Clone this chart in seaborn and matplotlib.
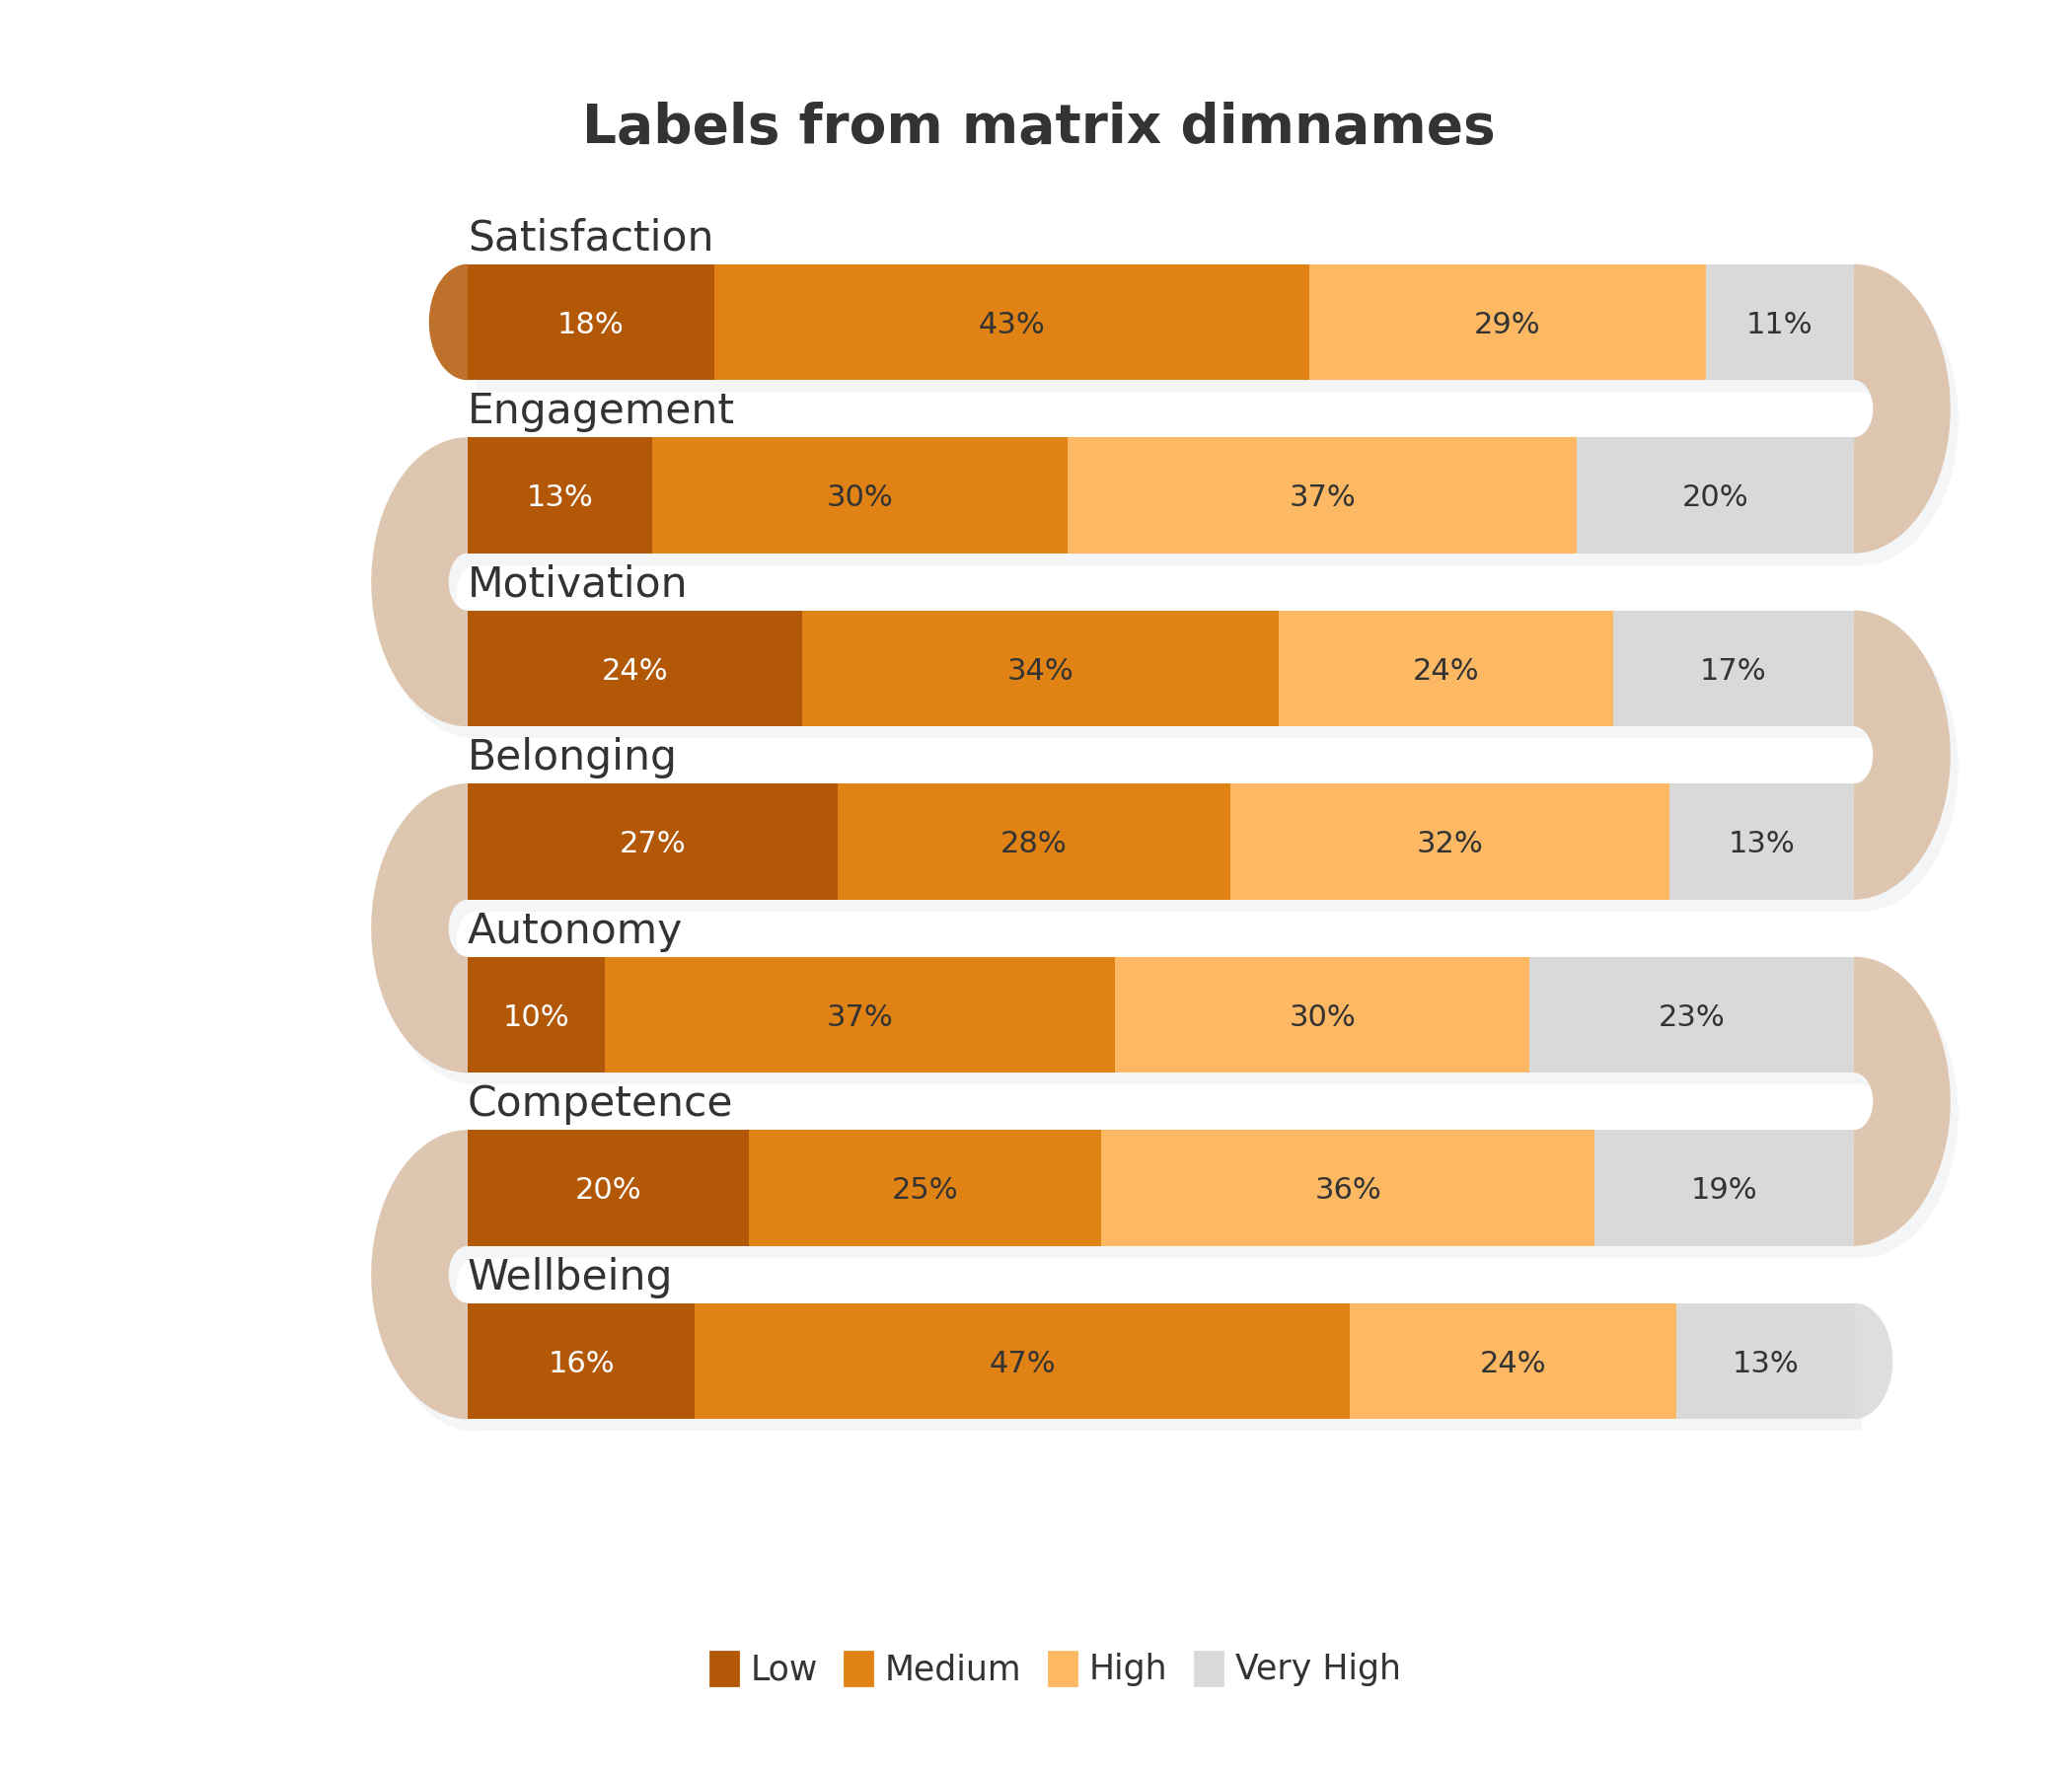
import numpy as np
import pandas as pd
import seaborn as sns
import matplotlib
matplotlib.use("Agg")
import matplotlib.pyplot as plt
from matplotlib.patches import Polygon, Rectangle, Patch

# survey rows and response levels (percent of respondents)
rows = ["Satisfaction", "Engagement", "Motivation", "Belonging",
        "Autonomy", "Competence", "Wellbeing"]
levels = ["Low", "Medium", "High", "Very High"]
low = [17.8, 13.3, 24.1, 26.7, 9.9, 20.3, 16.4]
medium = [42.9, 30.0, 34.4, 28.3, 36.8, 25.4, 47.2]
high = [28.6, 36.7, 24.1, 31.7, 29.9, 35.6, 23.6]
very_high = [10.7, 20.0, 17.4, 13.3, 23.4, 18.7, 12.8]

colors = ["#b35806", "#e08214", "#fdb863", "#d9d9d9"]
text_dark = "#333333"
connector_color = "#d9bda4"
shadow_color = "#f4f5f7"

BAR_H = 0.67       # bar thickness in row units
ASPECT = 0.667     # how round the caps look (x/y in pixels)
PX_X = 14.05       # pixels per percent
PX_Y = 175.5       # pixels per row


def half_ring(xc, yc, r_out, r_in, side):
    # half annulus, squashed so it looks like the reference caps
    t = np.linspace(-np.pi / 2, np.pi / 2, 120)
    k = PX_Y * ASPECT / PX_X
    outer_x = xc + side * r_out * k * np.cos(t)
    outer_y = yc + r_out * np.sin(t)
    inner_x = xc + side * r_in * k * np.cos(t[::-1])
    inner_y = yc + r_in * np.sin(t[::-1])
    return np.column_stack([np.r_[outer_x, inner_x], np.r_[outer_y, inner_y]])


def half_disc(xc, yc, r, side):
    t = np.linspace(-np.pi / 2, np.pi / 2, 120)
    k = PX_Y * ASPECT / PX_X
    return np.column_stack([xc + side * r * k * np.cos(t), yc + r * np.sin(t)])


def main():
    sns.set_theme(style="white")
    plt.rcParams["font.family"] = ["DejaVu Sans"]

    data = pd.DataFrame({"row": rows, "Low": low, "Medium": medium,
                         "High": high, "Very High": very_high})
    cum = data[levels].cumsum(axis=1)

    fig = plt.figure(figsize=(10.5, 9), dpi=200)
    ax = fig.add_axes([0, 0, 1, 1])

    # stacked bars: draw the cumulative totals from the longest down
    for k in reversed(range(len(levels))):
        sns.barplot(x=cum[levels[k]], y=data["row"], color=colors[k],
                    width=BAR_H, orient="h", saturation=1, linewidth=0,
                    ax=ax, zorder=2)

    dx, dy = 8 / PX_X, 12 / PX_Y
    half = BAR_H / 2
    n = len(rows)

    # drop shadows under each bar
    for i in range(n):
        ax.add_patch(Rectangle((dx, i - half + dy), 100, BAR_H,
                               color=shadow_color, lw=0, zorder=0.5))

    # connectors that snake from one row to the next
    for i in range(n - 1):
        side = 1 if i % 2 == 0 else -1
        xc = 100 if side == 1 else 0
        ring = half_ring(xc, i + 0.5, 0.5 + half, 0.5 - half, side)
        ax.add_patch(Polygon(ring + [dx, dy], closed=True, color=shadow_color,
                             lw=0, zorder=0.6))
        ax.add_patch(Polygon(ring, closed=True, color=connector_color,
                             alpha=0.85, lw=0, zorder=1))

    # round caps at the start and end of the snake
    ax.add_patch(Polygon(half_disc(0, 0, half, -1), closed=True,
                         color=colors[0], alpha=0.85, lw=0, zorder=1))
    last_side = 1 if (n - 1) % 2 == 0 else -1
    ax.add_patch(Polygon(half_disc(100 if last_side == 1 else 0, n - 1, half, last_side),
                         closed=True, color=colors[-1], alpha=0.85, lw=0, zorder=1))

    # row names and segment labels
    for i, name in enumerate(rows):
        ax.text(0, i - half - 0.078, name, fontsize=15.3, color=text_dark,
                ha="left", va="baseline", zorder=5)
        left = 0
        for k, lev in enumerate(levels):
            v = data.loc[i, lev]
            ax.text(left + v / 2, i, f"{v:.0f}%", fontsize=11,
                    color="white" if k == 0 else text_dark,
                    ha="center", va="center_baseline", zorder=5)
            left += v

    ax.set_xlim(-474 / PX_X, (2100 - 474) / PX_X)
    ax.set_ylim((1800 - 326.45) / PX_Y, -326.45 / PX_Y)
    ax.axis("off")

    fig.text(0.5015, 1 - 145 / 1800, "Labels from matrix dimnames",
             fontsize=19.8, fontweight="bold", color=text_dark,
             ha="center", va="baseline")

    handles = [Patch(color=c, label=l) for c, l in zip(colors, levels)]
    fig.legend(handles=handles, loc="center", ncol=4,
               bbox_to_anchor=(0.5095, 1 - 1691.5 / 1800), frameon=False,
               fontsize=12.5, handlelength=0.8, handleheight=1.15,
               handletextpad=0.37, columnspacing=0.8, labelcolor=text_dark)

    fig.savefig("out.png", dpi=200)


if __name__ == "__main__":
    main()
